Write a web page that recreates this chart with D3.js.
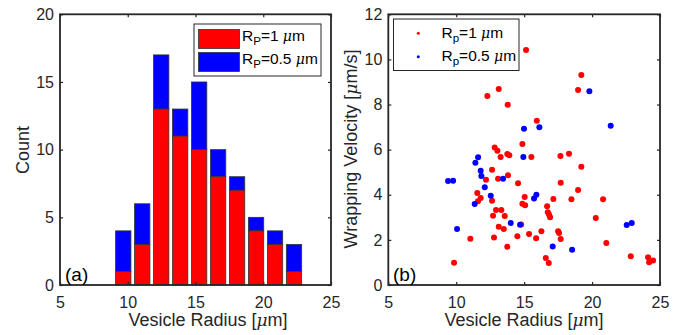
<!DOCTYPE html>
<html>
<head>
<meta charset="utf-8">
<script src="https://cdn.jsdelivr.net/npm/d3@7"></script>
<style>
  html, body { margin: 0; padding: 0; background: #fff; }
  svg { display: block; font-family: "Liberation Sans", Arial, Helvetica, sans-serif; }
</style>
</head>
<body>
<svg id="fig" width="682" height="335"></svg>
<script>
// ---- Histogram data (a) ----
const binCenters = [9.67, 11.07, 12.47, 13.87, 15.27, 16.67, 18.07, 19.47, 20.87, 22.27];
const countsRp1 = [1, 3, 13, 11, 10, 8, 7, 4, 3, 1];     // R_P = 1 um
const countsRp05 = [3, 3, 4, 2, 5, 2, 1, 1, 1, 2];       // R_P = 0.5 um (stacked on top)
const barWidth = 1.13;

// ---- Scatter data (b) ----
const radiusRp1 = [9.84, 11.04, 11.55, 11.60, 11.80, 12.19, 12.29, 12.64, 12.64, 12.71, 12.78, 12.83, 12.93,
  13.03, 13.08, 13.13, 13.13, 13.27, 13.32, 13.50, 13.57, 13.76, 13.76, 13.79, 13.81, 13.91, 14.50, 14.55,
  14.78, 14.87, 14.87, 15.04, 15.07, 15.14, 15.36, 15.53, 15.88, 15.93, 16.27, 16.59, 16.69, 16.74, 16.81,
  16.83, 16.91, 17.15, 17.50, 17.57, 17.67, 17.69, 17.69, 18.30, 18.48, 18.97, 18.97, 19.21, 19.21, 20.27,
  20.81, 21.05, 22.85, 24.12, 24.20, 24.49];
const velocityRp1 = [0.99, 2.05, 4.08, 3.71, 3.86, 4.67, 8.38, 3.74, 5.11, 3.07, 2.11, 6.10, 3.32,
  5.95, 4.71, 2.58, 8.69, 5.67, 3.32, 2.48, 3.06, 5.81, 1.70, 7.99, 4.86, 5.75, 2.16, 4.51,
  2.68, 3.60, 6.25, 3.90, 3.53, 10.42, 2.26, 5.67, 2.07, 7.28, 2.38, 1.20, 3.49, 3.22, 0.98,
  3.12, 3.00, 3.81, 2.38, 2.30, 5.72, 4.53, 2.04, 5.82, 3.80, 8.64, 4.21, 9.31, 5.24, 2.97,
  3.80, 1.86, 1.27, 1.23, 1.01, 1.09];
const radiusRp05 = [9.40, 9.77, 10.06, 11.36, 11.41, 11.61, 11.80, 11.85, 12.10, 12.54, 13.45, 14.01,
  14.70, 14.94, 14.99, 15.73, 15.90, 16.12, 17.10, 18.53, 19.80, 21.37, 22.55, 22.92];
const velocityRp05 = [4.61, 4.62, 2.48, 3.59, 5.42, 5.66, 5.07, 4.83, 4.33, 3.96, 4.71, 2.75,
  2.67, 5.67, 6.93, 3.83, 4.00, 6.99, 1.71, 1.56, 8.59, 7.06, 2.66, 2.75];

// ---- Tick values ----
const radiusTicks = [5, 10, 15, 20, 25];
const countTicks = [0, 5, 10, 15, 20];
const velocityTicks = [0, 2, 4, 6, 8, 10, 12];

const RED = "#ff0000", BLUE = "#0000ff", INK = "#262626";
const MU_FONT = "'DejaVu Serif', 'Liberation Serif', serif";
const svg = d3.select("#fig");

// Boxed axes with inward ticks on all four sides.
function boxAxes(g, x, y, xTicks, yTicks) {
  const [x0, x1] = x.range();
  const [y0, y1] = y.range();
  const style = sel => {
    sel.select(".domain").remove();
    sel.selectAll("line").attr("stroke", INK).attr("stroke-width", 1.2);
    sel.selectAll("text").attr("fill", INK).attr("font-size", 16);
  };
  g.append("g").attr("transform", `translate(0,${y0})`)
    .call(d3.axisBottom(x).tickValues(xTicks).tickSizeInner(-3).tickSizeOuter(0).tickPadding(12))
    .call(style);
  g.append("g").attr("transform", `translate(0,${y1})`)
    .call(d3.axisTop(x).tickValues(xTicks).tickSizeInner(-3).tickSizeOuter(0).tickFormat(""))
    .call(style);
  g.append("g").attr("transform", `translate(${x0},0)`)
    .call(d3.axisLeft(y).tickValues(yTicks).tickSizeInner(-3).tickSizeOuter(0).tickPadding(6))
    .call(style);
  g.append("g").attr("transform", `translate(${x1},0)`)
    .call(d3.axisRight(y).tickValues(yTicks).tickSizeInner(-3).tickSizeOuter(0).tickFormat(""))
    .call(style);
  g.append("rect")
    .attr("x", x0).attr("y", y1).attr("width", x1 - x0).attr("height", y0 - y1)
    .attr("fill", "none").attr("stroke", INK).attr("stroke-width", 1.8);
  g.selectAll(".tick text").attr("font-family", "'Liberation Sans', Arial, sans-serif");
}

// "R" + subscript + "=value μm"
function rpLabel(g, x, y, sub, rest) {
  const t = g.append("text").attr("x", x).attr("y", y).attr("fill", "#000").attr("font-size", 15.5);
  t.append("tspan").text("R");
  t.append("tspan").attr("font-size", 11.5).attr("dy", 4).text(sub);
  t.append("tspan").attr("dy", -4).text(rest + " ");
  t.append("tspan").attr("font-style", "italic").attr("font-family", MU_FONT).attr("font-size", 14).text("μ");
  t.append("tspan").text("m");
}

// Axis title with an italic μ inside the unit brackets
function unitTitle(sel, before, after) {
  sel.append("tspan").text(before);
  sel.append("tspan").attr("font-style", "italic").attr("font-family", MU_FONT).attr("font-size", 17).text("μ");
  sel.append("tspan").text(after);
}

// ---------------- Panel (a): stacked histogram ----------------
{
  const g = svg.append("g");
  const x = d3.scaleLinear().domain([5, 25]).range([60, 331]);
  const y = d3.scaleLinear().domain([0, 20]).range([285, 14.3]);

  const bars = binCenters.map((c, i) => ({ c, a: countsRp1[i], b: countsRp05[i] }));
  const bw = x(barWidth) - x(0);

  g.selectAll("rect.top").data(bars).join("rect").attr("class", "top")
    .attr("x", d => x(d.c) - bw / 2).attr("width", bw)
    .attr("y", d => y(d.a + d.b)).attr("height", d => y(d.a) - y(d.a + d.b))
    .attr("fill", BLUE).attr("stroke", "#333").attr("stroke-width", 0.8);
  g.selectAll("rect.bot").data(bars).join("rect").attr("class", "bot")
    .attr("x", d => x(d.c) - bw / 2).attr("width", bw)
    .attr("y", d => y(d.a)).attr("height", d => y(0) - y(d.a))
    .attr("fill", RED).attr("stroke", "#333").attr("stroke-width", 0.8);

  boxAxes(g, x, y, radiusTicks, countTicks);

  // legend
  const lg = g.append("g");
  lg.append("rect").attr("x", 194).attr("y", 24).attr("width", 127).attr("height", 52)
    .attr("fill", "#fff").attr("stroke", INK).attr("stroke-width", 1);
  lg.append("rect").attr("x", 198.5).attr("y", 29.5).attr("width", 41).attr("height", 19)
    .attr("fill", RED).attr("stroke", "#333").attr("stroke-width", 0.8);
  lg.append("rect").attr("x", 198.5).attr("y", 52.5).attr("width", 41).attr("height", 19)
    .attr("fill", BLUE).attr("stroke", "#333").attr("stroke-width", 0.8);
  rpLabel(lg, 242, 40.5, "P", "=1");
  rpLabel(lg, 242, 64, "P", "=0.5");

  g.append("text").attr("x", 65).attr("y", 281).attr("font-size", 19).attr("fill", "#000").text("(a)");

  unitTitle(g.append("text").attr("x", 208).attr("y", 326).attr("text-anchor", "middle")
    .attr("fill", INK).attr("font-size", 18), "Vesicle Radius [", "m]");
  g.append("text").attr("transform", "translate(29,150) rotate(-90)").attr("text-anchor", "middle")
    .attr("fill", INK).attr("font-size", 18).text("Count");
}

// ---------------- Panel (b): scatter ----------------
{
  const g = svg.append("g");
  const x = d3.scaleLinear().domain([5, 25]).range([388.3, 660]);
  const y = d3.scaleLinear().domain([0, 12]).range([285, 14.3]);

  const ptsA = radiusRp1.map((r, i) => ({ r, v: velocityRp1[i] }));
  const ptsB = radiusRp05.map((r, i) => ({ r, v: velocityRp05[i] }));

  g.selectAll("circle.a").data(ptsA).join("circle").attr("class", "a")
    .attr("cx", d => x(d.r)).attr("cy", d => y(d.v)).attr("r", 3).attr("fill", RED);
  g.selectAll("circle.b").data(ptsB).join("circle").attr("class", "b")
    .attr("cx", d => x(d.r)).attr("cy", d => y(d.v)).attr("r", 3).attr("fill", BLUE);

  boxAxes(g, x, y, radiusTicks, velocityTicks);

  const lg = g.append("g");
  lg.append("rect").attr("x", 393.5).attr("y", 19).attr("width", 125.5).attr("height", 51.5)
    .attr("fill", "#fff").attr("stroke", INK).attr("stroke-width", 1);
  lg.append("circle").attr("cx", 418.3).attr("cy", 33.3).attr("r", 1.5).attr("fill", RED);
  lg.append("circle").attr("cx", 418.3).attr("cy", 56.7).attr("r", 1.5).attr("fill", BLUE);
  rpLabel(lg, 441.5, 37.5, "p", "=1");
  rpLabel(lg, 441.5, 60.5, "p", "=0.5");

  g.append("text").attr("x", 393).attr("y", 281).attr("font-size", 19).attr("fill", "#000").text("(b)");

  unitTitle(g.append("text").attr("x", 524).attr("y", 326).attr("text-anchor", "middle")
    .attr("fill", INK).attr("font-size", 18), "Vesicle Radius [", "m]");
  unitTitle(g.append("text").attr("transform", "translate(357,149) rotate(-90)").attr("text-anchor", "middle")
    .attr("fill", INK).attr("font-size", 18), "Wrapping Velocity [", "m/s]");
}
</script>
</body>
</html>
